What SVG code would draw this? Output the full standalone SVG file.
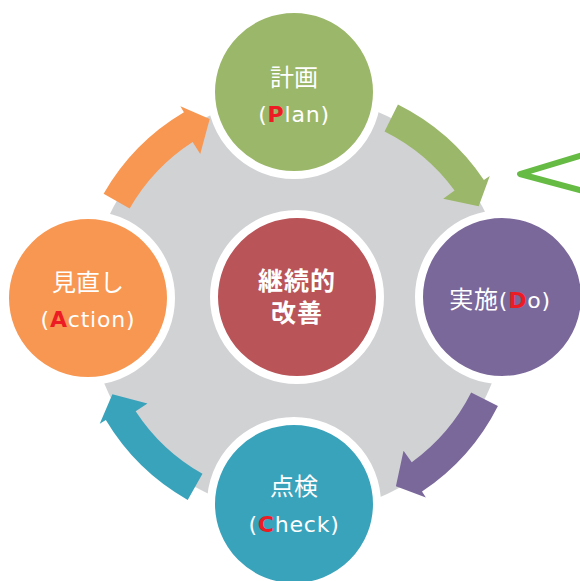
<svg xmlns="http://www.w3.org/2000/svg" xmlns:xlink="http://www.w3.org/1999/xlink" width="580" height="581" viewBox="0 0 580 581">
  <style>
    .node { stroke: #FFFFFF; stroke-width: 8; }
    .t { font-family: 'DejaVu Sans', 'Noto Sans CJK JP', sans-serif; fill: #FFFFFF; text-anchor: middle; }
    .jp { font-size: 24px; }
    .en { font-size: 22px; letter-spacing: 0.8px; }
    .key { fill: #ED1C24; font-weight: bold; }
    .ctr { font-size: 25px; font-weight: bold; letter-spacing: 1px; }
  </style>
  <defs>
    <path id="arrow" d="M224,0 A224,224 0 0 1 194.8,110.6 L200.9,114.1 L169.1,117.6 L159.9,82.5 L172.4,89.0 A194,194 0 0 0 194,0 Z"/>
  </defs>
  <rect width="580" height="581" fill="#FFFFFF"/>
  <circle id="background" cx="298" cy="305" r="209" fill="#D1D2D4"/>
  <g id="connectors">
    <use xlink:href="#arrow" href="#arrow" fill="#9BB769" transform="translate(298 305) rotate(-63.5)"/>
    <use xlink:href="#arrow" href="#arrow" fill="#7B689B" transform="translate(298 305) rotate(26.8)"/>
    <use xlink:href="#arrow" href="#arrow" fill="#3AA3BC" transform="translate(298 305) rotate(119.5)"/>
    <use xlink:href="#arrow" href="#arrow" fill="#F79752" transform="translate(298 305) rotate(-150.2)"/>
  </g>
  <g id="plan">
    <circle class="node" cx="294" cy="92" r="83" fill="#9BB769"/>
    <text class="t jp" x="294" y="86">計画</text>
    <text class="t en" x="294" y="122">(<tspan class="key">P</tspan>lan)</text>
  </g>
  <g id="do">
    <circle class="node" cx="502" cy="297" r="83" fill="#7B689B"/>
    <text class="t" x="500" y="308"><tspan class="jp" style="letter-spacing:0.8px">実施</tspan><tspan class="en">(<tspan class="key">D</tspan>o)</tspan></text>
  </g>
  <g id="check">
    <circle class="node" cx="294" cy="504" r="83" fill="#3AA3BC"/>
    <text class="t jp" x="294" y="495">点検</text>
    <text class="t en" x="294" y="532">(<tspan class="key">C</tspan>heck)</text>
  </g>
  <g id="action">
    <circle class="node" cx="88" cy="298" r="83" fill="#F79752"/>
    <text class="t jp" x="88" y="291">見直し</text>
    <text class="t en" x="88" y="327">(<tspan class="key">A</tspan>ction)</text>
  </g>
  <g id="center">
    <circle class="node" cx="297" cy="297" r="83" fill="#B95459"/>
    <text class="t ctr" x="297" y="290">継続的</text>
    <text class="t ctr" x="297" y="322">改善</text>
  </g>
  <polyline id="callout-edge" points="583,155 520,174 583,191" fill="none" stroke="#66BB44" stroke-width="6" stroke-linejoin="round" stroke-linecap="round"/>
</svg>
